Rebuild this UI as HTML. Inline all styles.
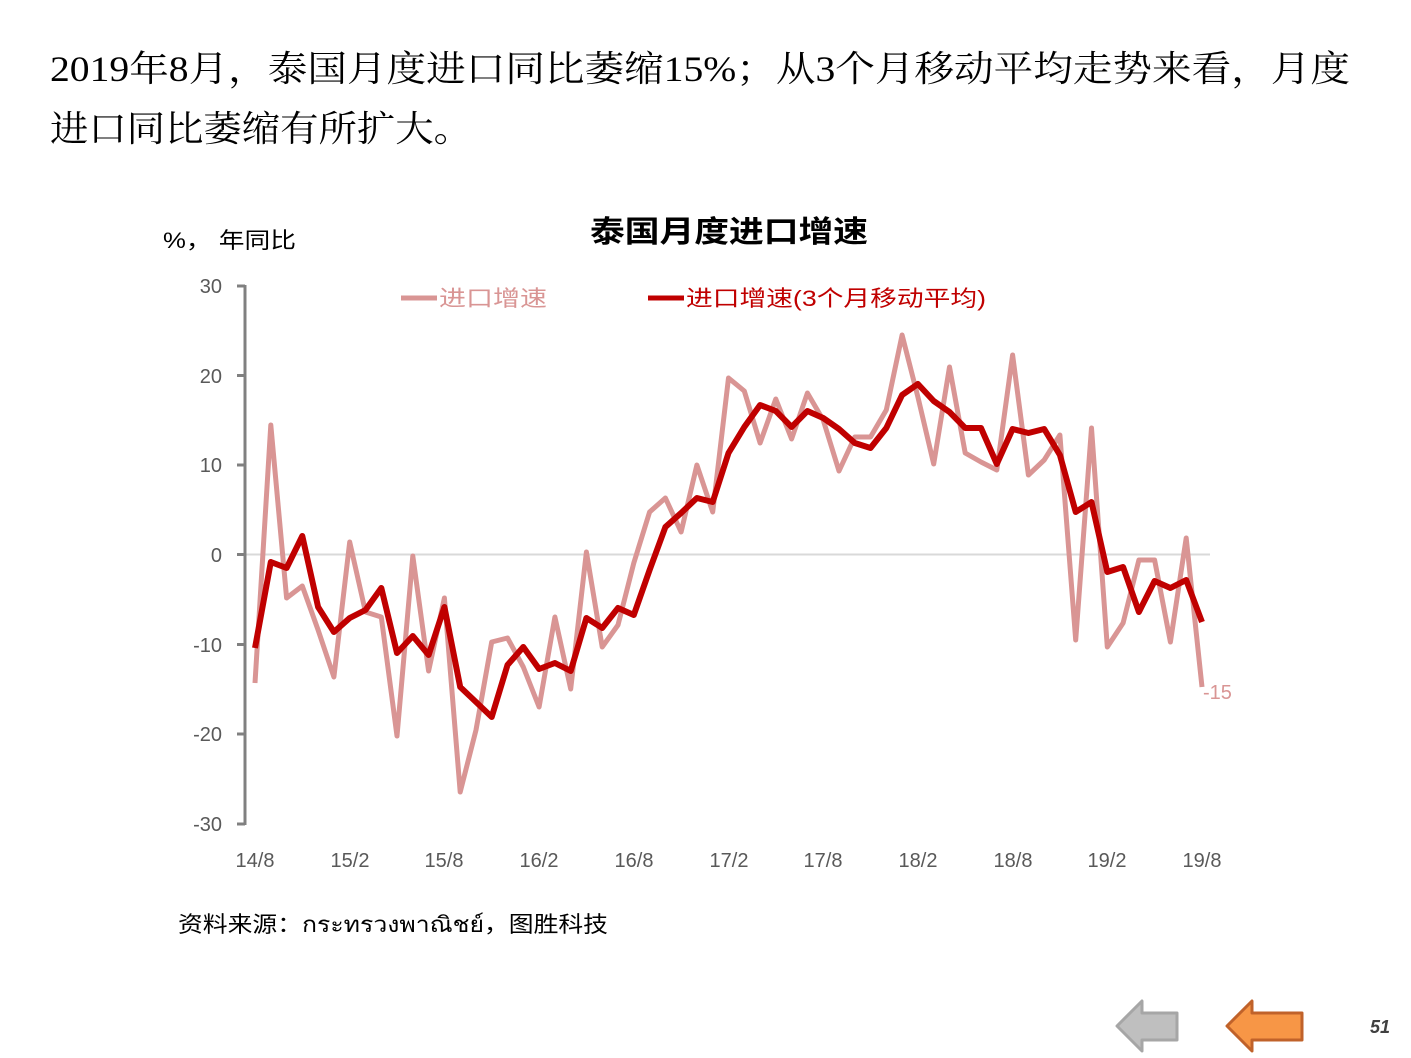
<!DOCTYPE html>
<html><head><meta charset="utf-8"><style>
html,body{margin:0;padding:0;background:#fff;}
svg{display:block;}
</style></head><body>
<svg width="1411" height="1058" viewBox="0 0 1411 1058" xmlns="http://www.w3.org/2000/svg">
<g font-family="'Liberation Serif','Noto Serif CJK SC',serif" font-size="36" fill="#000">
<text x="50" y="81" textLength="1300" lengthAdjust="spacingAndGlyphs">2019年8月，泰国月度进口同比萎缩15%；从3个月移动平均走势来看，月度</text>
<text x="50" y="141" textLength="422" lengthAdjust="spacingAndGlyphs">进口同比萎缩有所扩大。</text>
</g>
<text x="729" y="242" text-anchor="middle" font-family="'Liberation Sans','Noto Sans CJK SC',sans-serif" font-size="30" font-weight="bold" textLength="278" lengthAdjust="spacingAndGlyphs">泰国月度进口增速</text>
<text x="163" y="248" font-family="'Liberation Sans','Noto Sans CJK SC',sans-serif" font-size="22" fill="#000" textLength="133" lengthAdjust="spacingAndGlyphs">%， 年同比</text>
<line x1="401" y1="298" x2="437" y2="298" stroke="#d99594" stroke-width="5"/>
<text x="439" y="306" font-family="'Liberation Sans','Noto Sans CJK SC',sans-serif" font-size="22" fill="#d99594" textLength="108" lengthAdjust="spacingAndGlyphs">进口增速</text>
<line x1="648" y1="298" x2="684" y2="298" stroke="#c00000" stroke-width="5"/>
<text x="686" y="306" font-family="'Liberation Sans','Noto Sans CJK SC',sans-serif" font-size="22" fill="#c00000" textLength="300" lengthAdjust="spacingAndGlyphs">进口增速(3个月移动平均)</text>
<line x1="245" y1="554.5" x2="1210" y2="554.5" stroke="#d9d9d9" stroke-width="2"/>
<g stroke="#808080" stroke-width="3">
<line x1="245" y1="285" x2="245" y2="825"/>
<line x1="237" y1="286" x2="245" y2="286"/>
<line x1="237" y1="375.5" x2="245" y2="375.5"/>
<line x1="237" y1="465" x2="245" y2="465"/>
<line x1="237" y1="554.5" x2="245" y2="554.5"/>
<line x1="237" y1="644.5" x2="245" y2="644.5"/>
<line x1="237" y1="734" x2="245" y2="734"/>
<line x1="237" y1="824" x2="245" y2="824"/>
</g>
<g font-family="'Liberation Sans',sans-serif" font-size="20" fill="#595959" text-anchor="end">
<text x="222" y="293">30</text>
<text x="222" y="383">20</text>
<text x="222" y="472">10</text>
<text x="222" y="562">0</text>
<text x="222" y="652">-10</text>
<text x="222" y="741">-20</text>
<text x="222" y="831">-30</text>
</g>
<g font-family="'Liberation Sans',sans-serif" font-size="20" fill="#595959" text-anchor="middle">
<text x="255" y="867">14/8</text>
<text x="350" y="867">15/2</text>
<text x="444" y="867">15/8</text>
<text x="539" y="867">16/2</text>
<text x="634" y="867">16/8</text>
<text x="729" y="867">17/2</text>
<text x="823" y="867">17/8</text>
<text x="918" y="867">18/2</text>
<text x="1013" y="867">18/8</text>
<text x="1107" y="867">19/2</text>
<text x="1202" y="867">19/8</text>
</g>
<polyline fill="none" stroke="#d99594" stroke-width="5" stroke-linejoin="round" points="255,683 270.8,425 286.6,598 302.3,586 318.1,630 333.9,677 349.7,542 365.5,612 381.3,617 397,736 412.8,556 428.6,671 444.4,598 460.2,792 476,730 491.7,642 507.5,638 523.3,667 539.1,707 554.9,617 570.7,689 586.4,552 602.2,647 618,625 633.8,563 649.6,512 665.4,498 681.1,532 696.9,465 712.7,512 728.5,378 744.3,391 760.1,443 775.8,399 791.6,439 807.4,393 823.2,420 839,471 854.8,437 870.5,437 886.3,410 902.1,335 917.9,397 933.7,464 949.5,367 965.2,453 981,462 996.8,470 1012.6,355 1028.4,475 1044.2,460 1059.9,435 1075.7,640 1091.5,428 1107.3,647 1123.1,623 1138.9,560 1154.6,560 1170.4,642 1186.2,538 1202,687"/>
<polyline fill="none" stroke="#c00000" stroke-width="6" stroke-linejoin="round" points="255,648 270.8,562 286.6,568 302.3,536 318.1,607 333.9,632 349.7,618 365.5,610 381.3,588 397,653 412.8,636 428.6,655 444.4,607 460.2,687 476,702 491.7,717 507.5,665 523.3,647 539.1,669 554.9,663 570.7,671 586.4,618 602.2,628 618,608 633.8,615 649.6,570 665.4,527 681.1,513 696.9,498 712.7,502 728.5,453 744.3,427 760.1,405 775.8,411 791.6,427 807.4,411 823.2,418 839,429 854.8,443 870.5,448 886.3,428 902.1,395 917.9,384 933.7,401 949.5,412 965.2,428 981,428 996.8,464 1012.6,429 1028.4,433 1044.2,429 1059.9,455 1075.7,512 1091.5,502 1107.3,572 1123.1,567 1138.9,612 1154.6,581 1170.4,588 1186.2,580 1202,622"/>
<text x="1203" y="699" font-family="'Liberation Sans',sans-serif" font-size="20" fill="#d99594">-15</text>
<text x="178" y="932" font-family="'Liberation Sans','Noto Sans CJK SC',sans-serif" font-size="22" fill="#000" textLength="430" lengthAdjust="spacingAndGlyphs">资料来源：กระทรวงพาณิชย์，图胜科技</text>
<polygon points="1117,1026 1142,1001 1142,1013 1177,1013 1177,1040 1142,1040 1142,1051" fill="#bfbfbf" stroke="#a6a6a6" stroke-width="3" stroke-linejoin="round"/>
<polygon points="1227,1026 1252,1001 1252,1013 1302,1013 1302,1040 1252,1040 1252,1051" fill="#f79646" stroke="#c0622a" stroke-width="3" stroke-linejoin="round"/>
<text x="1370" y="1033" font-family="'Liberation Sans',sans-serif" font-size="18" font-weight="bold" font-style="italic" fill="#404040">51</text>
</svg>
</body></html>
